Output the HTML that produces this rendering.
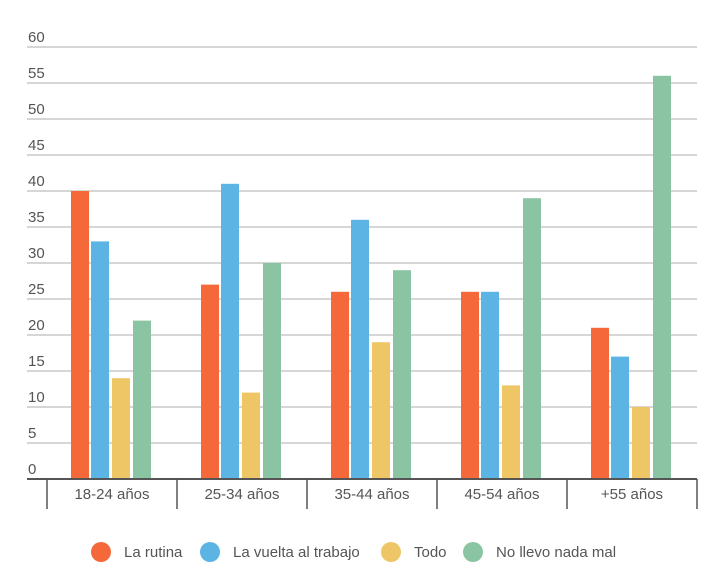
<!DOCTYPE html>
<html><head><meta charset="utf-8"><style>
html,body{margin:0;padding:0;background:#fff;}
svg{display:block;font-family:"Liberation Sans",sans-serif;}
</style></head><body>
<svg width="720" height="581" viewBox="0 0 720 581" xmlns="http://www.w3.org/2000/svg">
<g stroke="#c8c8c8" stroke-width="1.5">
<line x1="27" x2="697" y1="47" y2="47"/><line x1="27" x2="697" y1="83" y2="83"/>
<line x1="27" x2="697" y1="119" y2="119"/><line x1="27" x2="697" y1="155" y2="155"/>
<line x1="27" x2="697" y1="191" y2="191"/><line x1="27" x2="697" y1="227" y2="227"/>
<line x1="27" x2="697" y1="263" y2="263"/><line x1="27" x2="697" y1="299" y2="299"/>
<line x1="27" x2="697" y1="335" y2="335"/><line x1="27" x2="697" y1="371" y2="371"/>
<line x1="27" x2="697" y1="407" y2="407"/><line x1="27" x2="697" y1="443" y2="443"/>
</g>
<g fill="#555" font-size="15">
<text x="28" y="42">60</text><text x="28" y="78">55</text><text x="28" y="114">50</text>
<text x="28" y="150">45</text><text x="28" y="186">40</text><text x="28" y="222">35</text>
<text x="28" y="258">30</text><text x="28" y="294">25</text><text x="28" y="330">20</text>
<text x="28" y="366">15</text><text x="28" y="402">10</text><text x="28" y="438">5</text>
<text x="28" y="474">0</text>
</g>
<g>
<!-- group1 -->
<rect x="71" y="191" width="18" height="288" fill="#f4683a"/>
<rect x="91" y="241.4" width="18" height="237.6" fill="#5cb4e4"/>
<rect x="112" y="378.2" width="18" height="100.8" fill="#efc665"/>
<rect x="133" y="320.6" width="18" height="158.4" fill="#8bc4a3"/>
<!-- group2 -->
<rect x="201" y="284.6" width="18" height="194.4" fill="#f4683a"/>
<rect x="221" y="183.8" width="18" height="295.2" fill="#5cb4e4"/>
<rect x="242" y="392.6" width="18" height="86.4" fill="#efc665"/>
<rect x="263" y="263" width="18" height="216" fill="#8bc4a3"/>
<!-- group3 -->
<rect x="331" y="291.8" width="18" height="187.2" fill="#f4683a"/>
<rect x="351" y="219.8" width="18" height="259.2" fill="#5cb4e4"/>
<rect x="372" y="342.2" width="18" height="136.8" fill="#efc665"/>
<rect x="393" y="270.2" width="18" height="208.8" fill="#8bc4a3"/>
<!-- group4 -->
<rect x="461" y="291.8" width="18" height="187.2" fill="#f4683a"/>
<rect x="481" y="291.8" width="18" height="187.2" fill="#5cb4e4"/>
<rect x="502" y="385.4" width="18" height="93.6" fill="#efc665"/>
<rect x="523" y="198.2" width="18" height="280.8" fill="#8bc4a3"/>
<!-- group5 -->
<rect x="591" y="327.8" width="18" height="151.2" fill="#f4683a"/>
<rect x="611" y="356.6" width="18" height="122.4" fill="#5cb4e4"/>
<rect x="632" y="407" width="18" height="72" fill="#efc665"/>
<rect x="653" y="75.8" width="18" height="403.2" fill="#8bc4a3"/>
</g>
<line x1="27" x2="697" y1="479" y2="479" stroke="#555" stroke-width="2"/>
<g stroke="#555" stroke-width="1.5">
<line x1="47" x2="47" y1="479" y2="509"/><line x1="177" x2="177" y1="479" y2="509"/>
<line x1="307" x2="307" y1="479" y2="509"/><line x1="437" x2="437" y1="479" y2="509"/>
<line x1="567" x2="567" y1="479" y2="509"/><line x1="697" x2="697" y1="479" y2="509"/>
</g>
<g fill="#555" font-size="15" text-anchor="middle">
<text x="112" y="499">18-24 años</text><text x="242" y="499">25-34 años</text>
<text x="372" y="499">35-44 años</text><text x="502" y="499">45-54 años</text>
<text x="632" y="499">+55 años</text>
</g>
<circle cx="101" cy="552" r="10" fill="#f4683a"/>
<circle cx="210" cy="552" r="10" fill="#5cb4e4"/>
<circle cx="391" cy="552" r="10" fill="#efc665"/>
<circle cx="473" cy="552" r="10" fill="#8bc4a3"/>
<g fill="#555" font-size="15">
<text x="124" y="557">La rutina</text>
<text x="233" y="557">La vuelta al trabajo</text>
<text x="414" y="557">Todo</text>
<text x="496" y="557">No llevo nada mal</text>
</g>
</svg>
</body></html>
